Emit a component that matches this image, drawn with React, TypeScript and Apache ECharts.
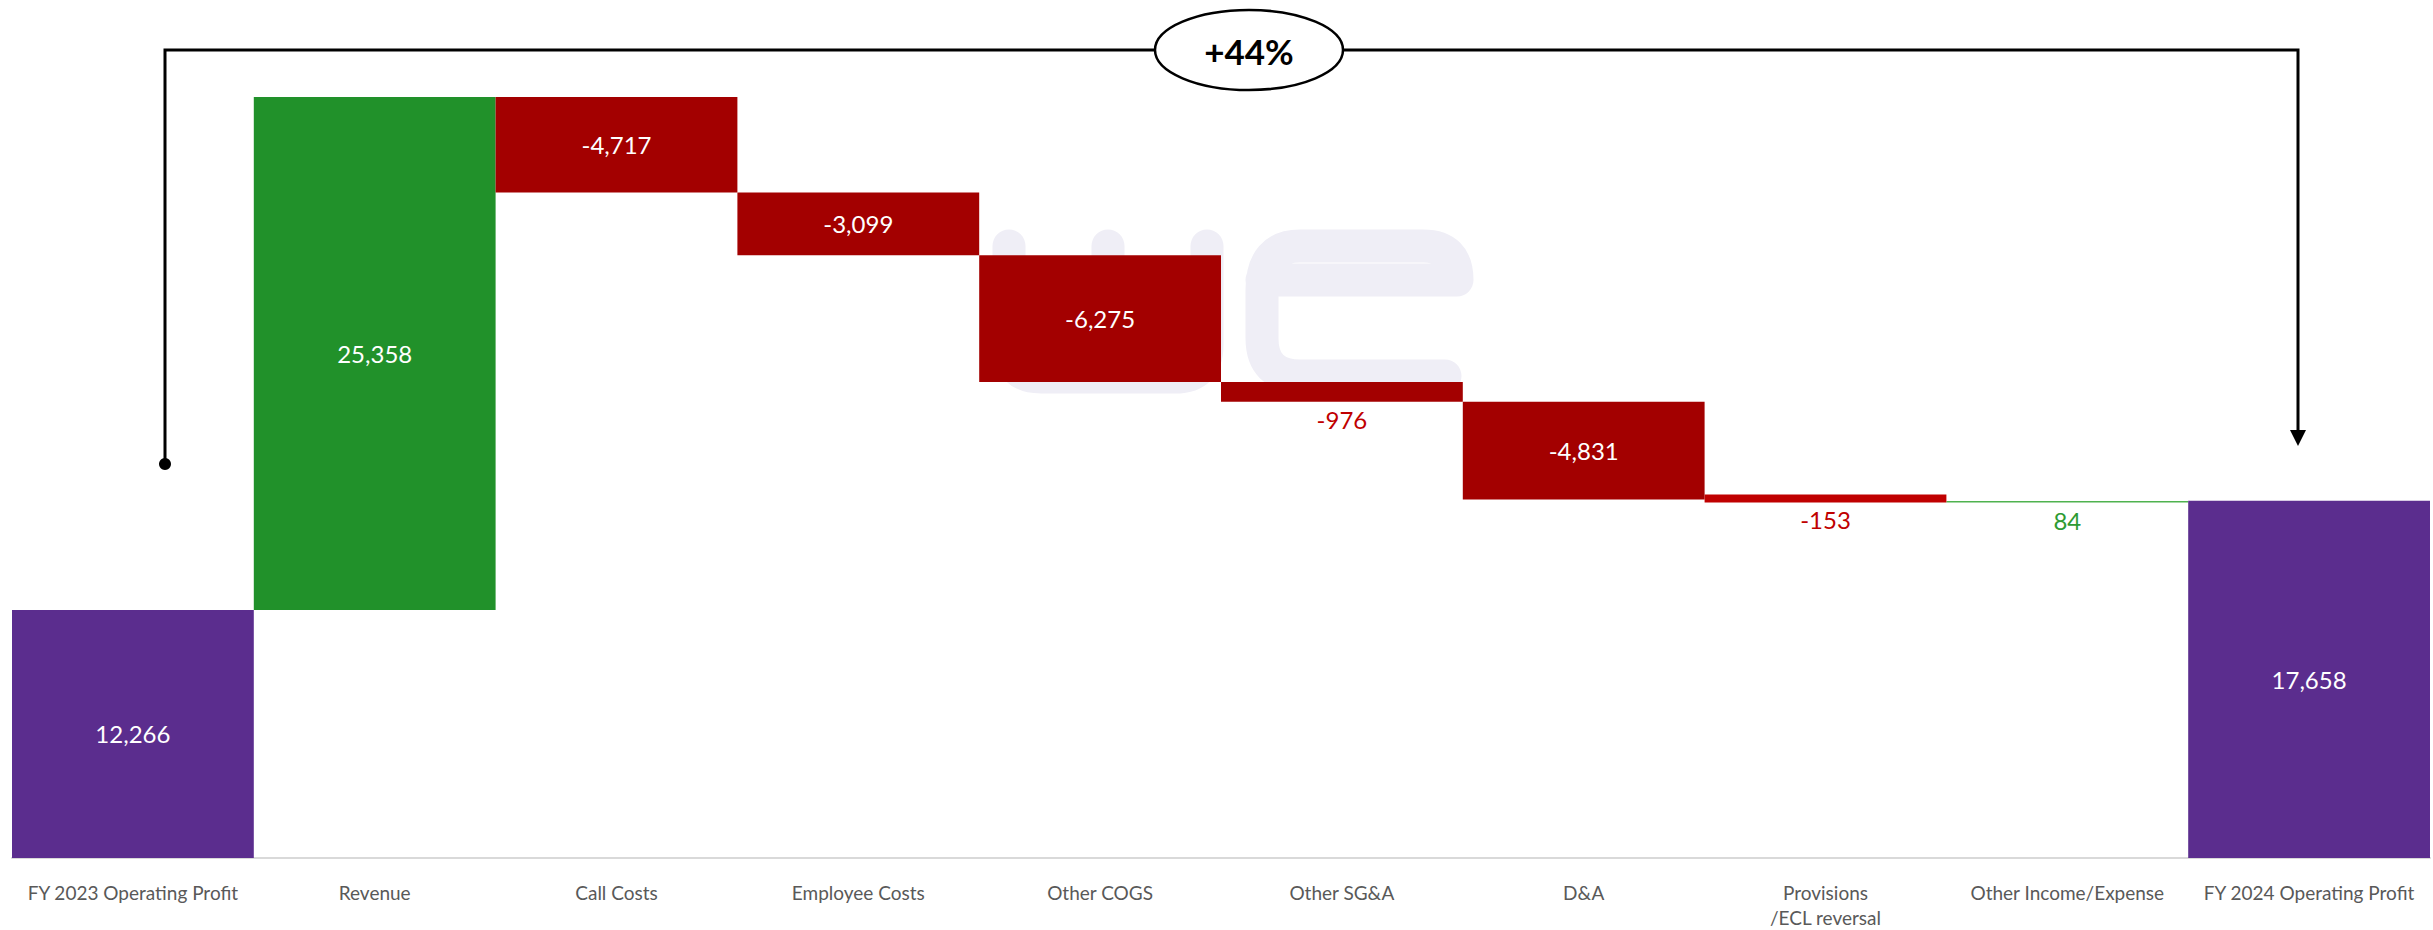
import React, { useEffect, useRef } from "react";
import * as echarts from "echarts";

const categories = [
  "FY 2023 Operating Profit",
  "Revenue",
  "Call Costs",
  "Employee Costs",
  "Other COGS",
  "Other SG&A",
  "D&A",
  "Provisions\n/ECL reversal",
  "Other Income/Expense",
  "FY 2024 Operating Profit",
];
const values = [12266, 25358, -4717, -3099, -6275, -976, -4831, -153, 84, 17658];
const isTotal = [true, false, false, false, false, false, false, false, false, true];
const labelTexts = ["12,266", "25,358", "-4,717", "-3,099", "-6,275", "-976", "-4,831", "-153", "84", "17,658"];
const labelOutside = [false, false, false, false, false, true, false, true, true, false];
const thinIndex = 7; // drawn with a minimum visible thickness
const changeText = "+44%";

const PURPLE = "#5b2d8e";
const GREEN = "#21912a";
const RED = "#a30000";
const RED_LABEL = "#c00000";
const GREEN_LABEL = "#2e9b33";

const WE_PATH =
  "M1009 246 V345 Q1009 377 1041 377 H1175 Q1207 377 1207 345 V246 M1108 246 V377 " +
  "M1262 280 H1457 Q1457 246 1423 246 H1300 Q1262 246 1262 290 V338 Q1262 376 1300 376 H1445";

let registered = false;

export default function App() {
  const ref = useRef<HTMLDivElement>(null);
  useEffect(() => {
    if (!ref.current) return;
    if (!registered) {
      echarts.graphic.registerShape("weLogo", echarts.graphic.extendPath(WE_PATH, {}));
      registered = true;
    }
    const chart = echarts.init(ref.current, undefined, { renderer: "svg" });

    const base: number[] = [];
    const heights: number[] = [];
    let running = 0;
    values.forEach((v, i) => {
      if (isTotal[i]) {
        base.push(0);
        heights.push(v);
        running = v;
      } else if (v >= 0) {
        base.push(running);
        heights.push(v);
        running += v;
      } else {
        running += v;
        base.push(running);
        heights.push(-v);
      }
    });

    const font = "Lato";
    const makeLabel = (i: number) => {
      const v = values[i];
      if (labelOutside[i]) {
        return {
          show: true,
          position: "bottom",
          distance: i === thinIndex ? 5 : 6,
          color: v >= 0 ? GREEN_LABEL : RED_LABEL,
          formatter: labelTexts[i],
          fontSize: 24,
          fontFamily: font,
        };
      }
      return {
        show: true,
        position: "inside",
        color: "#ffffff",
        formatter: labelTexts[i],
        fontSize: 24,
        fontFamily: font,
      };
    };

    const visible = heights.map((h, i) => {
      if (i === thinIndex) return "-";
      const v = values[i];
      const color = isTotal[i] ? PURPLE : v >= 0 ? GREEN : RED;
      const item: any = { value: h, itemStyle: { color }, label: makeLabel(i) };
      if (i === 8) item.itemStyle = { color: "#4fb24f" };
      return item;
    });
    const thin = heights.map((h, i) =>
      i === thinIndex ? { value: h, label: makeLabel(i) } : "-"
    );

    chart.setOption({
      animation: false,
      backgroundColor: "#ffffff",
      grid: { left: 12, right: 3, top: 49, bottom: 69, containLabel: false },
      xAxis: {
        type: "category",
        data: categories,
        axisLine: { show: true, lineStyle: { color: "#d9d9d9", width: 2 } },
        axisTick: { show: false },
        axisLabel: {
          color: "#595959",
          fontSize: 19,
          fontFamily: font,
          margin: 22,
          lineHeight: 25,
          interval: 0,
        },
      },
      yAxis: {
        type: "value",
        min: 0,
        max: 40000,
        show: false,
        splitLine: { show: false },
      },
      graphic: [
        {
          type: "weLogo",
          x: 0,
          y: 0,
          scaleX: 1,
          scaleY: 1,
          z: -10,
          silent: true,
          style: {
            fill: "none",
            stroke: "#efeef6",
            lineWidth: 33,
            lineCap: "round",
            lineJoin: "round",
          },
        },
        {
          type: "polyline",
          z: 100,
          shape: { points: [[165, 464], [165, 50], [2298, 50], [2298, 432]] },
          style: { stroke: "#000", lineWidth: 3, fill: "none" },
        },
        {
          type: "circle",
          z: 100,
          shape: { cx: 165, cy: 464, r: 6 },
          style: { fill: "#000" },
        },
        {
          type: "polygon",
          z: 100,
          shape: { points: [[2290, 430], [2306, 430], [2298, 446]] },
          style: { fill: "#000" },
        },
        {
          type: "ellipse",
          z: 101,
          shape: { cx: 1249, cy: 50, rx: 94, ry: 40 },
          style: { fill: "#ffffff", stroke: "#000", lineWidth: 2.5 },
        },
        {
          type: "text",
          z: 102,
          x: 1249,
          y: 51,
          style: {
            text: changeText,
            font: "bold 35px Lato",
            fill: "#000",
            textAlign: "center",
            textVerticalAlign: "middle",
          },
        },
      ],
      series: [
        {
          name: "base",
          type: "bar",
          stack: "wf",
          barCategoryGap: "0%",
          itemStyle: { color: "transparent" },
          emphasis: { disabled: true },
          data: base,
          silent: true,
        },
        {
          name: "value",
          type: "bar",
          stack: "wf",
          barCategoryGap: "0%",
          data: visible,
        },
        {
          name: "thin",
          type: "bar",
          stack: "wf",
          barCategoryGap: "0%",
          barMinHeight: 8,
          itemStyle: { color: RED_LABEL },
          data: thin,
        },
      ],
    });
    return () => chart.dispose();
  }, []);
  return (
    <div
      ref={ref}
      style={{ position: "absolute", left: 0, top: 0, width: 2433, height: 930 }}
    />
  );
}
